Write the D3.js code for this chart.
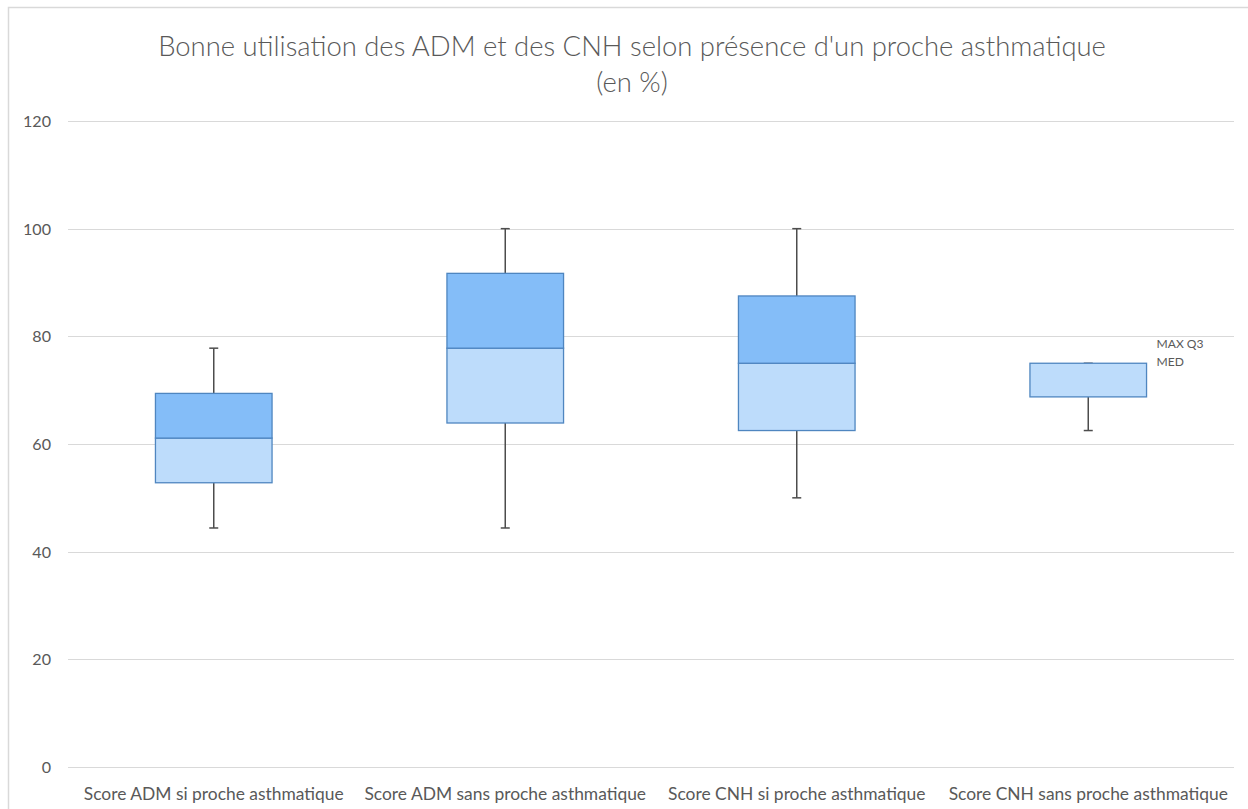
<!DOCTYPE html>
<html>
<head>
<meta charset="utf-8">
<script src="https://cdn.jsdelivr.net/npm/d3@7"></script>
<style>
  html, body { margin: 0; padding: 0; background: #ffffff; }
  svg { display: block; }
  text { font-family: Lato, "Open Sans", "DejaVu Sans", sans-serif; fill: #595959; }
</style>
</head>
<body>
<svg id="chart" width="1248" height="809"></svg>
<script>
// ---- Data ----
const categories = [
  "Score ADM si proche asthmatique",
  "Score ADM sans proche asthmatique",
  "Score CNH si proche asthmatique",
  "Score CNH sans proche asthmatique"
];
const minValues    = [44.4, 44.4, 50.0, 62.5];
const q1Values     = [52.8, 63.9, 62.5, 68.75];
const medianValues = [61.1, 77.8, 75.0, 75.0];
const q3Values     = [69.4, 91.7, 87.5, 75.0];
const maxValues    = [77.8, 100.0, 100.0, 75.0];
const yTicks = [0, 20, 40, 60, 80, 100, 120];
const titleLines = ["Bonne utilisation des ADM et des CNH selon présence d'un proche asthmatique", "(en %)"];
const extraLabels = ["MAX Q3", "MED"];

const boxes = categories.map((c, i) => ({
  cat: c, min: minValues[i], q1: q1Values[i], med: medianValues[i], q3: q3Values[i], max: maxValues[i]
}));

// ---- Layout ----
const svg = d3.select("#chart");
const plot = { left: 68, right: 1234, top: 121, bottom: 767 };

svg.append("rect")
  .attr("x", 8.5).attr("y", 7.5)
  .attr("width", 1300).attr("height", 900)
  .attr("fill", "none").attr("stroke", "#d9d9d9").attr("stroke-width", 1.5);

const x = d3.scaleBand()
  .domain(categories)
  .range([plot.left, plot.right])
  .paddingInner(0.6)
  .paddingOuter(0.3);

const y = d3.scaleLinear().domain([0, 120]).range([plot.bottom, plot.top]);

function fitFont(sel, target, base) {
  sel.style("font-size", base + "px");
  const w = sel.node().getComputedTextLength();
  sel.style("font-size", (base * target / w).toFixed(2) + "px");
}

// Gridlines
svg.append("g")
  .selectAll("line")
  .data(yTicks)
  .join("line")
  .attr("x1", plot.left).attr("x2", plot.right)
  .attr("y1", d => Math.round(y(d)) + 0.5).attr("y2", d => Math.round(y(d)) + 0.5)
  .attr("stroke", "#d9d9d9").attr("stroke-width", 1);

// Y axis using d3 axis (labels only)
const yAxis = svg.append("g")
  .attr("transform", `translate(${plot.left - 17},0)`)
  .call(d3.axisLeft(y).tickValues(yTicks).tickSize(0).tickPadding(0));
yAxis.select(".domain").remove();
yAxis.selectAll("text").attr("fill", "#595959").attr("dy", "0.35em");
{
  const t120 = yAxis.selectAll("text").filter(d => d === 120);
  t120.style("font-size", "20px");
  const w = t120.node().getComputedTextLength();
  const fs = (20 * 28 / w).toFixed(2);
  yAxis.selectAll("text").style("font-size", fs + "px").style("font-family", "Lato, 'Open Sans', sans-serif");
}

// X axis labels
const xAxis = svg.append("g")
  .attr("transform", `translate(0,${plot.bottom})`)
  .call(d3.axisBottom(x).tickSize(0).tickPadding(0));
xAxis.select(".domain").remove();
xAxis.selectAll("text").attr("fill", "#595959").attr("dy", "0").attr("y", 33)
  .style("font-family", "Lato, 'Open Sans', sans-serif");
{
  const first = xAxis.selectAll("text").filter((d, i) => i === 0);
  first.style("font-size", "20px");
  const w = first.node().getComputedTextLength();
  const fs = (20 * 260 / w).toFixed(2);
  xAxis.selectAll("text").style("font-size", fs + "px");
}

// Boxes
const bw = x.bandwidth();
const g = svg.append("g");
const bg = g.selectAll("g.box").data(boxes).join("g").attr("class", "box");
const cx = d => x(d.cat) + bw / 2;
const capW = 9;

// whiskers
bg.append("line")
  .attr("x1", cx).attr("x2", cx)
  .attr("y1", d => y(d.q3)).attr("y2", d => y(d.max))
  .attr("stroke", "#4d4d4d").attr("stroke-width", 1.5);
bg.append("line")
  .attr("x1", cx).attr("x2", cx)
  .attr("y1", d => y(d.q1)).attr("y2", d => y(d.min))
  .attr("stroke", "#4d4d4d").attr("stroke-width", 1.5);
bg.append("line")
  .attr("x1", d => cx(d) - capW / 2).attr("x2", d => cx(d) + capW / 2)
  .attr("y1", d => y(d.max)).attr("y2", d => y(d.max))
  .attr("stroke", "#4d4d4d").attr("stroke-width", 1.5);
bg.append("line")
  .attr("x1", d => cx(d) - capW / 2).attr("x2", d => cx(d) + capW / 2)
  .attr("y1", d => y(d.min)).attr("y2", d => y(d.min))
  .attr("stroke", "#4d4d4d").attr("stroke-width", 1.5);

// lower part (Q1 -> median)
bg.append("rect")
  .attr("x", d => x(d.cat)).attr("width", bw)
  .attr("y", d => y(d.med)).attr("height", d => y(d.q1) - y(d.med))
  .attr("fill", "#bddcfb").attr("stroke", "#4f86c0").attr("stroke-width", 1.3);
// upper part (median -> Q3)
bg.filter(d => d.q3 > d.med).append("rect")
  .attr("x", d => x(d.cat)).attr("width", bw)
  .attr("y", d => y(d.q3)).attr("height", d => y(d.med) - y(d.q3))
  .attr("fill", "#84bdf8").attr("stroke", "#4f86c0").attr("stroke-width", 1.3);

// Extra labels near last box
const last = boxes[boxes.length - 1];
const lx = x(last.cat) + bw + 10;
const l1 = svg.append("text").attr("x", lx).attr("y", y(last.max) - 19).attr("dy", "0.35em")
  .attr("fill", "#404040").text(extraLabels[0]);
fitFont(l1, 47, 11);
const fsL = l1.style("font-size");
svg.append("text").attr("x", lx).attr("y", y(last.med) - 1).attr("dy", "0.35em")
  .attr("fill", "#404040").style("font-size", fsL).text(extraLabels[1]);

// Title
const t1 = svg.append("text").attr("x", 632).attr("y", 56).attr("text-anchor", "middle")
  .style("font-family", "Lato, 'Open Sans', sans-serif").style("font-weight", "300")
  .text(titleLines[0]);
fitFont(t1, 948, 26);
svg.append("text").attr("x", 632).attr("y", 92).attr("text-anchor", "middle")
  .style("font-family", "Lato, 'Open Sans', sans-serif").style("font-weight", "300")
  .style("font-size", t1.style("font-size"))
  .text(titleLines[1]);
</script>
</body>
</html>
